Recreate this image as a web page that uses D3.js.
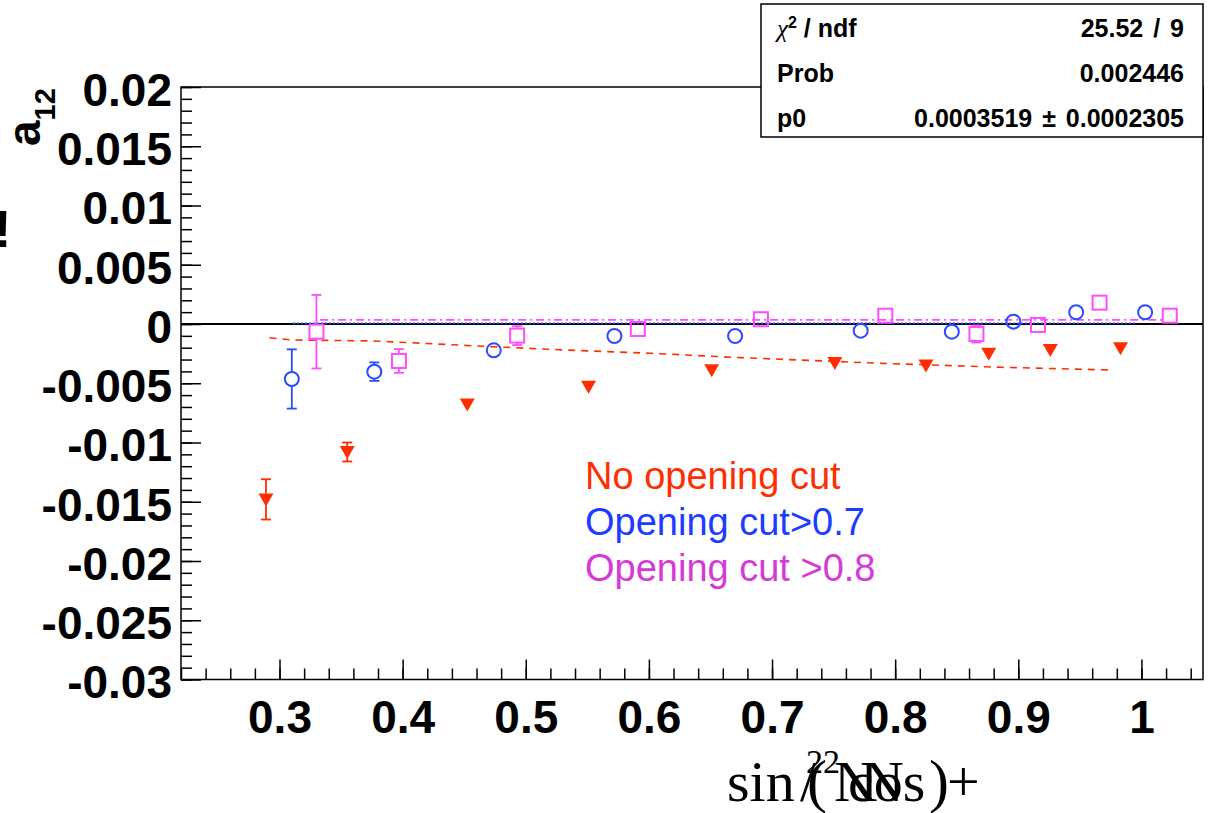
<!DOCTYPE html>
<html>
<head>
<meta charset="utf-8">
<script src="https://cdn.jsdelivr.net/npm/d3@7"></script>
<style>
  html, body { margin: 0; padding: 0; background: #fff; }
  svg { display: block; }
</style>
</head>
<body>
<svg id="chart" width="1209" height="813"></svg>
<script>
"use strict";

// ── Data ──────────────────────────────────────────────────────────────────────
// No opening cut (red, filled down-triangles)
const redX   = [0.289, 0.355, 0.4525, 0.551, 0.651, 0.751, 0.825, 0.876, 0.926, 0.983];
const redY   = [-0.0148, -0.0108, -0.0068, -0.0053, -0.0039, -0.0033, -0.0035, -0.0025, -0.0022, -0.00205];
const redErr = [0.0017, 0.0008, 0.0005, 0.0005, 0.0005, 0.0005, 0.0005, 0.0005, 0.0005, 0.0005];

// Opening cut > 0.7 (blue, open circles)
const blueX   = [0.310, 0.377, 0.474, 0.572, 0.670, 0.772, 0.846, 0.896, 0.947, 1.003];
const blueY   = [-0.00464, -0.00402, -0.00222, -0.00101, -0.00101, -0.00056, -0.00065, 0.0002, 0.00099, 0.00099];
const blueErr = [0.0025, 0.00078, 0.0005, 0.0005, 0.0005, 0.0005, 0.0005, 0.0005, 0.0005, 0.0005];

// Opening cut > 0.8 (magenta, open squares)
const magX   = [0.330, 0.397, 0.493, 0.591, 0.691, 0.792, 0.866, 0.916, 0.966, 1.023];
const magY   = [-0.00065, -0.00312, -0.00098, -0.00042, 0.0004, 0.0007, -0.00084, -0.00008, 0.0018, 0.0007];
const magErr = [0.0031, 0.001, 0.0008, 0.0005, 0.0005, 0.0005, 0.00072, 0.0005, 0.0005, 0.0005];

// fit curves
const redFitX  = [0.2919, 0.3106, 0.3764, 0.4738, 0.5307, 0.6014, 0.6745, 0.7898, 0.8857, 0.9751];
const redFitY  = [-0.00116, -0.00135, -0.00143, -0.00192, -0.00219, -0.00247, -0.00284, -0.00332, -0.00365, -0.00388];
const blueFitX = [0.311, 0.995];
const blueFitY = [0.00005, 0.00005];
const magFitX  = [0.333, 1.017];
const magFitY  = [0.0003519, 0.0003519];

// axes
const xTickValues = [0.3, 0.4, 0.5, 0.6, 0.7, 0.8, 0.9, 1.0];
const xTickLabels = ["0.3", "0.4", "0.5", "0.6", "0.7", "0.8", "0.9", "1"];
const yTickValues = [0.02, 0.015, 0.01, 0.005, 0, -0.005, -0.01, -0.015, -0.02, -0.025, -0.03];
const yTickLabels = ["0.02", "0.015", "0.01", "0.005", "0", "-0.005", "-0.01", "-0.015", "-0.02", "-0.025", "-0.03"];

// stats box
const statNames  = ["ndf", "Prob", "p0"];
const statValues = ["25.52 / 9", "0.002446", "0.0003519 \u00b1 0.0002305"];

// legend texts
const legendTexts  = ["No opening cut", "Opening cut>0.7", "Opening cut >0.8"];
const legendColors = ["#ff2e00", "#1d3cff", "#d63ad6"];

// ── Colours / layout ──────────────────────────────────────────────────────────
const RED  = "#ff2e00";
const BLUE = "#2a4bff";
const MAG  = "#ff4cff";
const FONT = "'Liberation Sans', Arial, Helvetica, sans-serif";
const SERIF = "'Liberation Serif', 'Times New Roman', serif";

const frame = { left: 181, right: 1203, top: 87, bottom: 679.5 };

const svg = d3.select("#chart");

const x = d3.scaleLinear().domain([0.22, 1.05]).range([frame.left, frame.right]);
const y = d3.scaleLinear().domain([-0.03, 0.02]).range([frame.bottom, frame.top]);

// ── Axes ──────────────────────────────────────────────────────────────────────
const xMinor = d3.range(22, 106, 2).map((v) => v / 100).filter((v) => v <= 1.05);
const yMinor = d3.range(-30, 21, 1).map((v) => v / 1000);

const gxMinor = svg.append("g")
  .attr("transform", `translate(0,${frame.bottom})`)
  .call(d3.axisBottom(x).tickValues(xMinor).tickSize(-11).tickFormat(""));

const gx = svg.append("g")
  .attr("transform", `translate(0,${frame.bottom})`)
  .call(d3.axisBottom(x).tickValues(xTickValues).tickSize(-20).tickPadding(21)
    .tickFormat((d, i) => xTickLabels[i]));

const gyMinor = svg.append("g")
  .attr("transform", `translate(${frame.left},0)`)
  .call(d3.axisLeft(y).tickValues(yMinor).tickSize(-11).tickFormat(""));

const gy = svg.append("g")
  .attr("transform", `translate(${frame.left},0)`)
  .call(d3.axisLeft(y).tickValues(yTickValues).tickSize(-20).tickPadding(9)
    .tickFormat((d, i) => yTickLabels[i]));

[gxMinor, gx, gyMinor, gy].forEach((g) => {
  g.select(".domain").remove();
  g.selectAll(".tick line").attr("stroke", "#000").attr("stroke-width", 1.5);
  g.selectAll("text")
    .attr("fill", "#000")
    .style("font-family", FONT)
    .style("font-weight", "bold")
    .style("font-size", "46px");
});
gy.selectAll("text").attr("dy", "0.40em");

// frame
svg.append("rect")
  .attr("x", frame.left).attr("y", frame.top)
  .attr("width", frame.right - frame.left).attr("height", frame.bottom - frame.top)
  .attr("fill", "none").attr("stroke", "#000").attr("stroke-width", 1.5);

// zero line
svg.append("line")
  .attr("x1", frame.left).attr("x2", frame.right)
  .attr("y1", y(0)).attr("y2", y(0))
  .attr("stroke", "#000").attr("stroke-width", 2);

// ── Fit lines ─────────────────────────────────────────────────────────────────
const line = d3.line().x((d) => x(d[0])).y((d) => y(d[1]));

svg.append("path")
  .datum(d3.zip(blueFitX, blueFitY))
  .attr("d", line).attr("fill", "none")
  .attr("stroke", BLUE).attr("stroke-width", 1.6).attr("stroke-dasharray", "2,2");

svg.append("path")
  .datum(d3.zip(magFitX, magFitY))
  .attr("d", line).attr("fill", "none")
  .attr("stroke", MAG).attr("stroke-width", 1.6).attr("stroke-dasharray", "8,4,2,4");

svg.append("path")
  .datum(d3.zip(redFitX, redFitY))
  .attr("d", line).attr("fill", "none")
  .attr("stroke", RED).attr("stroke-width", 1.6).attr("stroke-dasharray", "7,6");

// ── Points with error bars ────────────────────────────────────────────────────
function drawErrors(xs, ys, es, color, half) {
  const g = svg.append("g").attr("stroke", color).attr("stroke-width", 1.8);
  xs.forEach((xv, i) => {
    const cx = x(xv), cy = y(ys[i]);
    const top = y(ys[i] + es[i]), bot = y(ys[i] - es[i]);
    if (cy - top <= half) return;
    g.append("line").attr("x1", cx).attr("x2", cx).attr("y1", top).attr("y2", cy - half);
    g.append("line").attr("x1", cx).attr("x2", cx).attr("y1", cy + half).attr("y2", bot);
    g.append("line").attr("x1", cx - 5).attr("x2", cx + 5).attr("y1", top).attr("y2", top);
    g.append("line").attr("x1", cx - 5).attr("x2", cx + 5).attr("y1", bot).attr("y2", bot);
  });
}

drawErrors(redX, redY, redErr, RED, 6);
drawErrors(blueX, blueY, blueErr, BLUE, 7);
drawErrors(magX, magY, magErr, MAG, 7);

svg.append("g").selectAll("path")
  .data(d3.zip(redX, redY))
  .join("path")
  .attr("transform", (d) => `translate(${x(d[0])},${y(d[1])})`)
  .attr("d", "M-7.5,-6L7.5,-6L0,7Z")
  .attr("fill", RED);

svg.append("g").selectAll("circle")
  .data(d3.zip(blueX, blueY))
  .join("circle")
  .attr("cx", (d) => x(d[0])).attr("cy", (d) => y(d[1])).attr("r", 7)
  .attr("fill", "none").attr("stroke", BLUE).attr("stroke-width", 2);

svg.append("g").selectAll("rect")
  .data(d3.zip(magX, magY))
  .join("rect")
  .attr("x", (d) => x(d[0]) - 7).attr("y", (d) => y(d[1]) - 7)
  .attr("width", 14).attr("height", 14)
  .attr("fill", "none").attr("stroke", MAG).attr("stroke-width", 2);

// ── Legend text ───────────────────────────────────────────────────────────────
svg.append("g").selectAll("text")
  .data(legendTexts)
  .join("text")
  .attr("x", 585).attr("y", (d, i) => 489 + i * 46)
  .attr("fill", (d, i) => legendColors[i])
  .style("font-family", FONT).style("font-size", "38px")
  .text((d) => d);

// ── Stats box ─────────────────────────────────────────────────────────────────
svg.append("rect")
  .attr("x", 761).attr("y", 4).attr("width", 442).attr("height", 133)
  .attr("fill", "#fff").attr("stroke", "#000").attr("stroke-width", 1.5);

const stats = svg.append("g")
  .style("font-family", FONT).style("font-size", "25px").style("font-weight", "bold")
  .attr("fill", "#000");

statNames.forEach((name, i) => {
  const by = 37 + i * 45;
  const t = stats.append("text").attr("x", 777).attr("y", by);
  if (i === 0) {
    t.append("tspan").style("font-family", SERIF).style("font-weight", "normal")
      .style("font-style", "italic").text("\u03c7");
    t.append("tspan").attr("dy", -9).style("font-size", "16px").text("2");
    t.append("tspan").attr("dy", 9).text(" / " + name);
  } else {
    t.text(name);
  }
  stats.append("text").attr("x", 1184).attr("y", by)
    .attr("text-anchor", "end").style("word-spacing", "3px").text(statValues[i]);
});

// ── Axis titles ───────────────────────────────────────────────────────────────
const yTitle = svg.append("text")
  .attr("transform", "translate(40,146) rotate(-90)")
  .style("font-family", FONT).style("font-weight", "bold").style("font-size", "46px")
  .attr("fill", "#000");
yTitle.append("tspan").text("a");
yTitle.append("tspan").attr("dy", 15).style("font-size", "29px").text("12");

// stray glyph at the left edge
svg.append("text")
  .attr("x", -6).attr("y", 247)
  .style("font-family", FONT).style("font-weight", "bold").style("font-size", "52px")
  .text("!");

// x title: overlapping TLatex pieces
const xTitle = svg.append("g").style("font-family", SERIF).attr("fill", "#000");
const xTitlePieces = [
  { t: "sin", x: 727, y: 801, s: 58 },
  { t: "/",   x: 800, y: 801, s: 58 },
  { t: "(",   x: 807, y: 801, s: 60 },
  { t: "22",  x: 806, y: 773, s: 34 },
  { t: "cos", x: 848, y: 801, s: 58 },
  { t: "N",   x: 834, y: 801, s: 58 },
  { t: "N",   x: 862, y: 801, s: 58 },
  { t: ")",   x: 929, y: 801, s: 60 },
  { t: "+",   x: 947, y: 801, s: 58 },
];
xTitle.selectAll("text")
  .data(xTitlePieces)
  .join("text")
  .attr("x", (d) => d.x).attr("y", (d) => d.y)
  .style("font-size", (d) => d.s + "px")
  .text((d) => d.t);
</script>
</body>
</html>
